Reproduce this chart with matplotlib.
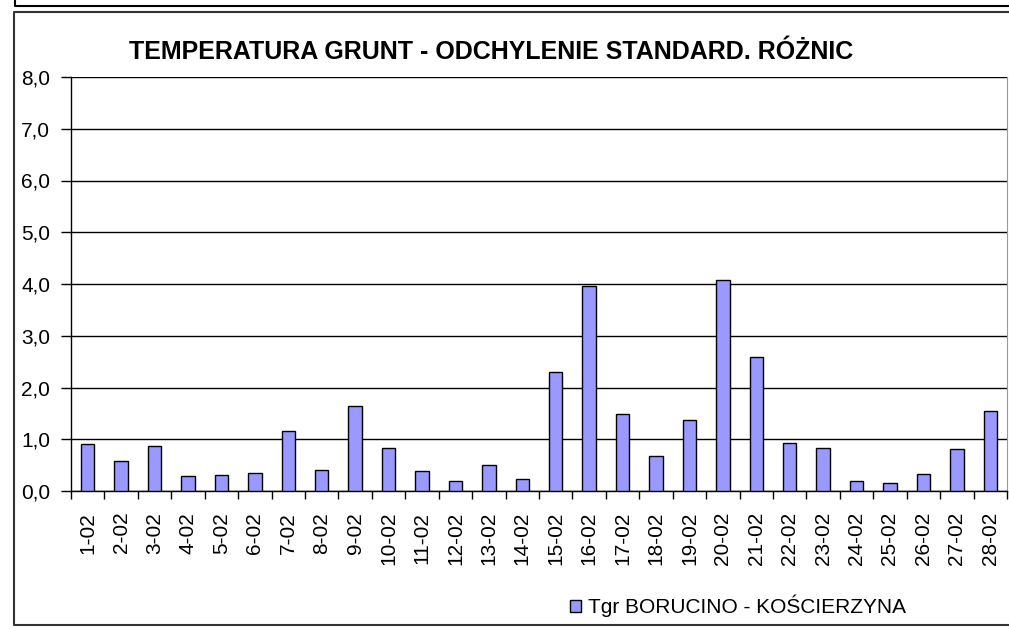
import matplotlib.pyplot as plt
from matplotlib.lines import Line2D
from matplotlib.patches import Patch
from matplotlib.ticker import FuncFormatter, MultipleLocator
import numpy as np

plt.rcParams['font.family'] = ['Liberation Sans', 'DejaVu Sans']

days = ['%d-02' % d for d in range(1, 29)]
values = [0.91, 0.58, 0.87, 0.29, 0.31, 0.35, 1.16, 0.40, 1.64, 0.83,
          0.39, 0.20, 0.50, 0.24, 2.29, 3.96, 1.48, 0.68, 1.38, 4.07,
          2.59, 0.92, 0.84, 0.19, 0.16, 0.32, 0.81, 1.54]
series_name = 'Tgr BORUCINO - KOŚCIERZYNA'
title = 'TEMPERATURA GRUNT - ODCHYLENIE STANDARD. RÓŻNIC'

W, H = 1009, 629
fig = plt.figure(figsize=(W / 100, H / 100), dpi=100)
ax = fig.add_axes([71 / W, 1 - 491 / H, (1007 - 71) / W, (491 - 77) / H])

x = np.arange(len(days))
ax.bar(x, values, width=0.4, color='#9999FF', edgecolor='black', linewidth=1, zorder=3)

ax.set_xlim(-0.5, len(days) - 0.5)
ax.set_ylim(0, 8)
ax.yaxis.set_major_locator(MultipleLocator(1))
ax.yaxis.set_major_formatter(FuncFormatter(lambda v, p: ('%.1f' % v).replace('.', ',')))
ax.grid(axis='y', color='black', linewidth=1, zorder=0)

# labels at category centres, tick marks between categories
ax.set_xticks(x)
ax.set_xticklabels(days, rotation=90)
ax.set_xticks(np.arange(len(days) + 1) - 0.5, minor=True)
ax.tick_params(axis='x', which='major', length=0, pad=15, labelsize=15)
ax.tick_params(axis='x', which='minor', length=6, width=1, direction='out')
ax.tick_params(axis='y', length=7, width=1, pad=8, labelsize=15)

ax.spines['top'].set_visible(False)
ax.spines['right'].set_color('#999999')
for s in ('left', 'bottom'):
    ax.spines[s].set_color('black')
    ax.spines[s].set_linewidth(1)

fig.text(491 / W, 1 - 52 / H, title, ha='center', va='center',
         fontsize=18, fontweight='bold')

fig.legend(handles=[Patch(facecolor='#9999FF', edgecolor='black', linewidth=1)],
           labels=[series_name], loc='center', bbox_to_anchor=(738 / W, 1 - 606 / H),
           frameon=False, fontsize=15, handlelength=0.55, handleheight=0.55,
           handletextpad=0.35)

def px_line(xs, ys, color='black', lw=1.5):
    fig.add_artist(Line2D([v / W for v in xs], [1 - v / H for v in ys],
                          transform=fig.transFigure, color=color, linewidth=lw))

# frame of the chart above and of this chart
px_line([15, 15, W], [0, 6, 6], lw=1.5)
px_line([W, 14, 14, W], [11.5, 11.5, 625, 625], color='#333333', lw=1.5)

fig.savefig('out.png', dpi=100)
